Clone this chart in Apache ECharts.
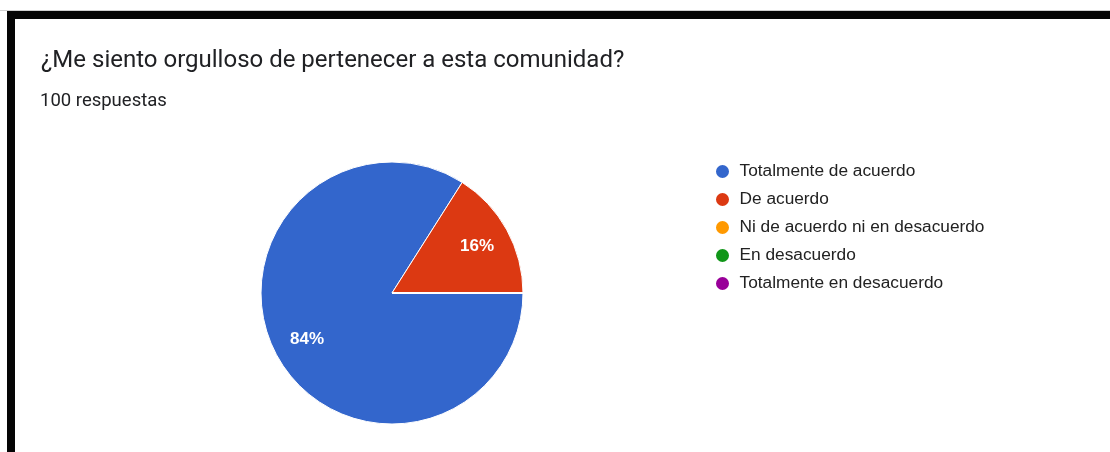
<!DOCTYPE html>
<html>
<head>
<meta charset="utf-8">
<script src="https://cdn.jsdelivr.net/npm/echarts@6/dist/echarts.min.js"></script>
<style>
  html, body { margin: 0; padding: 0; background: #fff; }
  #chart { width: 1110px; height: 452px; }
</style>
</head>
<body>
<div id="chart"></div>
<script>
const titleText = '¿Me siento orgulloso de pertenecer a esta comunidad?';
const subtitleText = '100 respuestas';
const categories = [
  'Totalmente de acuerdo',
  'De acuerdo',
  'Ni de acuerdo ni en desacuerdo',
  'En desacuerdo',
  'Totalmente en desacuerdo'
];
const values = [84, 16, 0, 0, 0];
const colors = ['#3366cc', '#dc3912', '#ff9900', '#109618', '#990099'];

const chart = echarts.init(document.getElementById('chart'), null, { renderer: 'canvas' });
const data = categories.map((c, i) => ({ name: c, value: values[i] }));

chart.setOption({
  animation: false,
  backgroundColor: '#ffffff',
  color: colors,
  graphic: [
    { type: 'rect', shape: { x: 0, y: 10, width: 1110, height: 1 }, style: { fill: '#cfcfcf' }, silent: true },
    { type: 'rect', shape: { x: 7, y: 11, width: 1103, height: 8 }, style: { fill: '#050505' }, silent: true },
    { type: 'rect', shape: { x: 7, y: 11, width: 8, height: 441 }, style: { fill: '#050505' }, silent: true }
  ],
  title: [
    { text: titleText, left: 41, top: 49, padding: 0, textStyle: { fontFamily: 'Roboto', fontSize: 24, fontWeight: 'normal', color: '#202124' } },
    { text: subtitleText, left: 40, top: 92, padding: 0, textStyle: { fontFamily: 'Roboto', fontSize: 18.5, fontWeight: 'normal', color: '#202124' } }
  ],
  legend: {
    orient: 'vertical',
    left: 714,
    top: 163,
    padding: 0,
    icon: 'circle',
    itemWidth: 24,
    itemHeight: 15,
    itemGap: 11,
    data: categories,
    textStyle: { fontFamily: 'Liberation Sans, Arial', fontSize: 17.3, color: '#222222' }
  },
  series: [
    {
      type: 'pie',
      center: [392, 293],
      radius: [0, 131],
      startAngle: 0,
      clockwise: true,
      data: data,
      label: { show: false },
      labelLine: { show: false },
      itemStyle: { borderColor: '#ffffff', borderWidth: 1 },
      emphasis: { disabled: true }
    },
    {
      type: 'pie',
      center: [392, 293],
      radius: [57, 131],
      startAngle: 0,
      clockwise: true,
      silent: true,
      data: data,
      itemStyle: { color: 'rgba(0,0,0,0)', borderWidth: 0 },
      label: {
        show: true,
        position: 'inside',
        formatter: p => (p.value > 0 ? p.value + '%' : ''),
        fontFamily: 'Liberation Sans, Arial',
        fontSize: 17,
        fontWeight: 'bold',
        color: '#ffffff'
      },
      labelLine: { show: false },
      emphasis: { disabled: true }
    }
  ]
});
</script>
</body>
</html>
